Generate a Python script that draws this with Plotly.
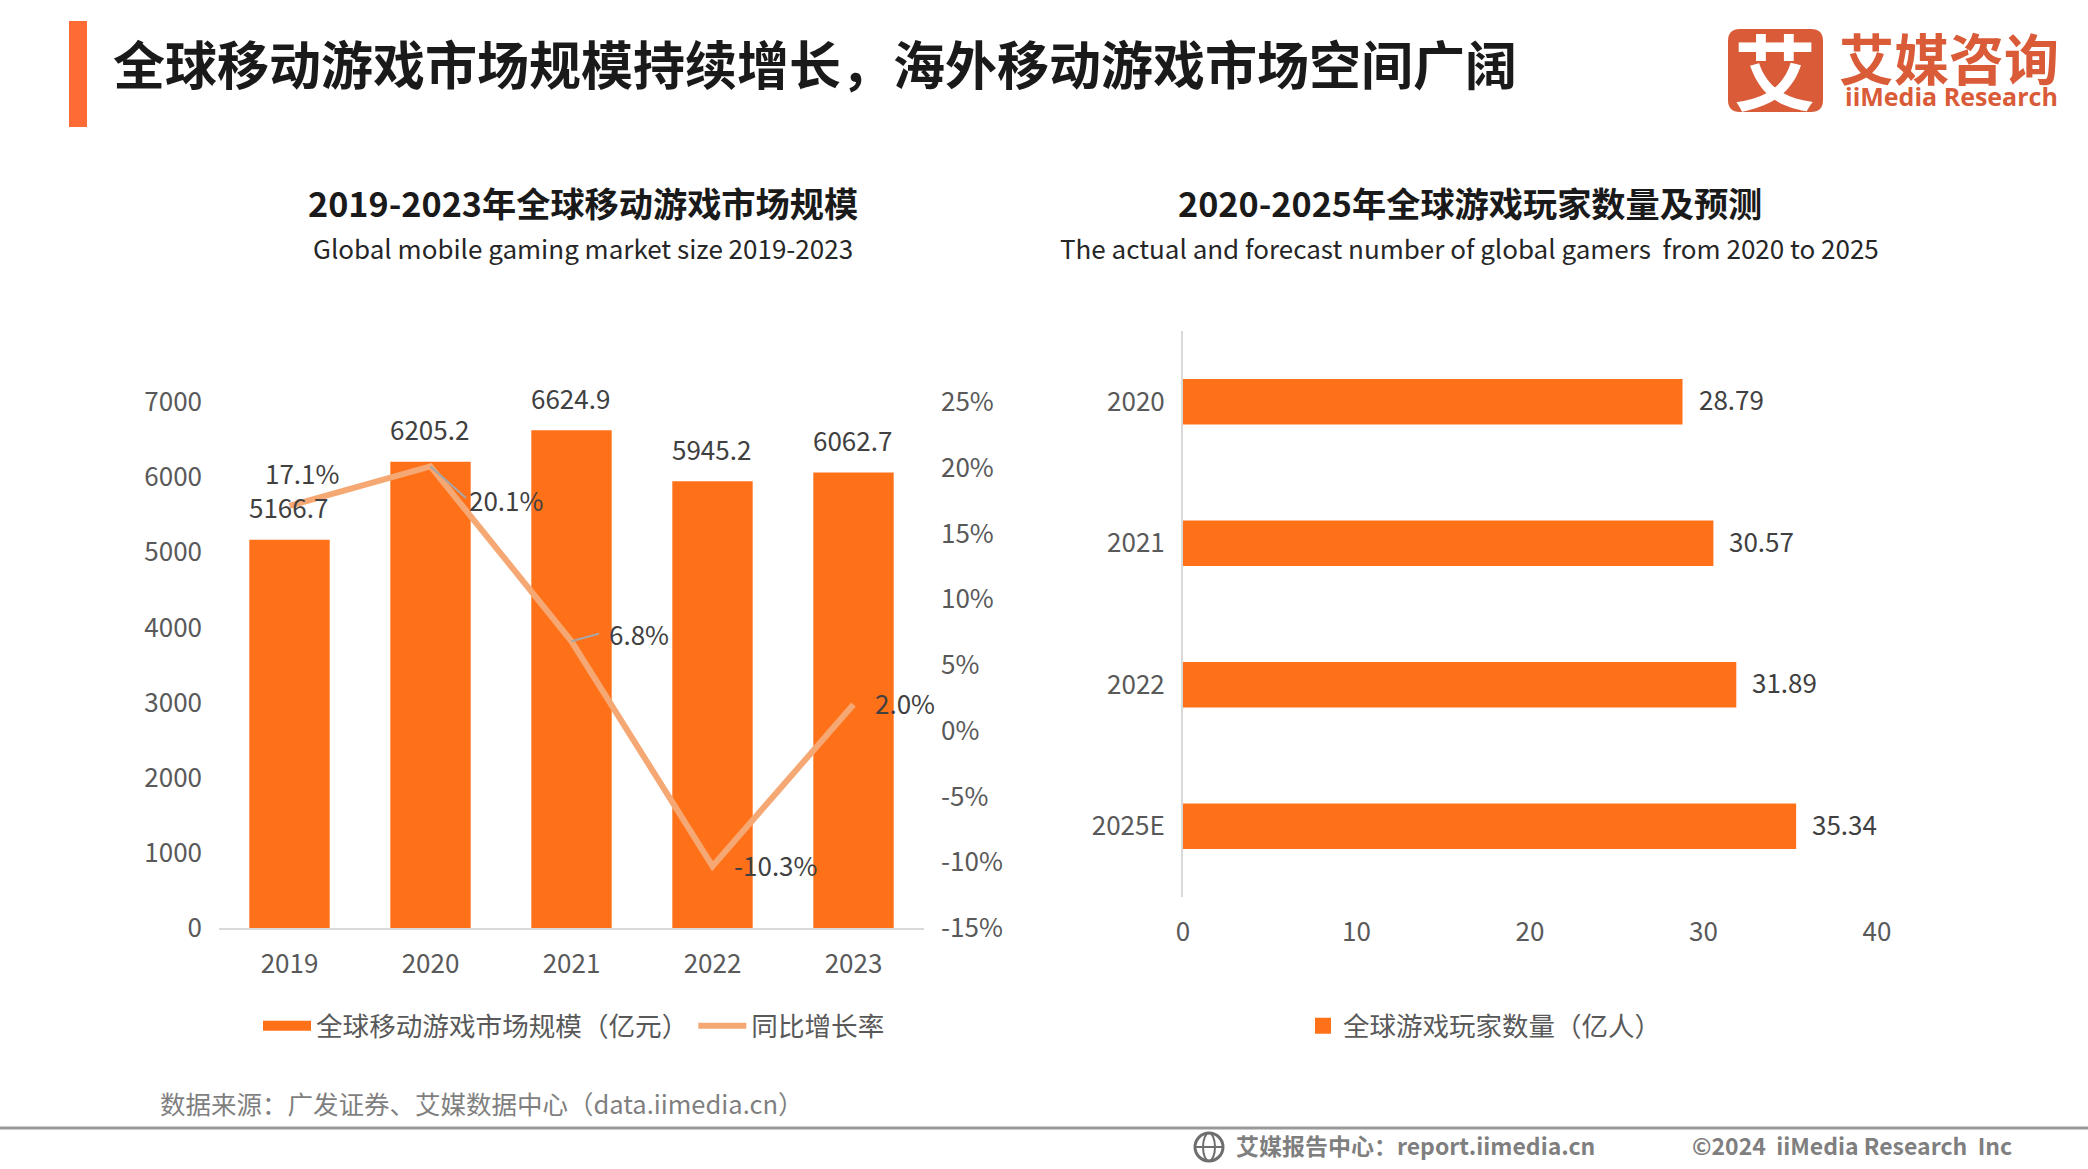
import plotly.graph_objects as go

W, H = 2088, 1169
FONT = "Noto Sans CJK SC"
ORANGE = "#FF7119"
LINE = "#F5A873"
BRAND = "#D95B38"

years = ["2019", "2020", "2021", "2022", "2023"]
market_size = [5166.7, 6205.2, 6624.9, 5945.2, 6062.7]
growth = [17.1, 20.1, 6.8, -10.3, 2.0]
size_ticks = [0, 1000, 2000, 3000, 4000, 5000, 6000, 7000]
growth_ticks = [-15, -10, -5, 0, 5, 10, 15, 20, 25]
growth_tick_labels = ["-15%", "-10%", "-5%", "0%", "5%", "10%", "15%", "20%", "25%"]
growth_labels = ["17.1%", "20.1%", "6.8%", "-10.3%", "2.0%"]

player_years = ["2020", "2021", "2022", "2025E"]
players = [28.79, 30.57, 31.89, 35.34]
player_ticks = [0, 10, 20, 30, 40]


def px(x):
    return x / W


def py(y):
    return 1 - y / H


fig = go.Figure()
fig.add_trace(go.Bar(x=years, y=market_size, marker_color=ORANGE, marker_line_width=0,
                     width=0.57, xaxis="x", yaxis="y", showlegend=False))
fig.add_trace(go.Scatter(x=[None], y=[None], mode="lines", name="全球移动游戏市场规模（亿元）",
                         line=dict(color=ORANGE, width=18), xaxis="x", yaxis="y", legend="legend"))
fig.add_trace(go.Scatter(x=years, y=growth, mode="lines", name="同比增长率",
                         line=dict(color=LINE, width=6), xaxis="x", yaxis="y2", legend="legend"))
fig.add_trace(go.Bar(y=player_years, x=players, orientation="h", marker_color=ORANGE,
                     marker_line_width=0, width=0.32, xaxis="x3", yaxis="y3", showlegend=False))
fig.add_trace(go.Scatter(x=[None], y=[None], mode="markers", name="全球游戏玩家数量（亿人）",
                         marker=dict(color=ORANGE, symbol="square", size=18),
                         xaxis="x3", yaxis="y3", legend="legend2"))

ann = []


def text(x, y, s, size, color="#404040", bold=False, anchor="center", family=FONT):
    t = f"<b>{s}</b>" if bold else s
    ann.append(dict(xref="paper", yref="paper", x=px(x), y=py(y), text=t, showarrow=False,
                    xanchor=anchor, yanchor="middle",
                    font=dict(family=family, size=size, color=color)))


text(111, 62.5, "全球移动游戏市场规模持续增长，海外移动游戏市场空间广阔", 52, "#1a1a1a", True, "left")
text(583, 201.5, "2019-2023年全球移动游戏市场规模", 34.2, "#1a1a1a", True)
text(583, 247.5, "Global mobile gaming market size 2019-2023", 26, "#262626")
text(1470, 201.5, "2020-2025年全球游戏玩家数量及预测", 34.2, "#1a1a1a", True)
text(1470, 247.5, "The actual and forecast number of global gamers  from 2020 to 2025", 26, "#262626")
text(158, 1102.5, "数据来源：广发证券、艾媒数据中心（data.iimedia.cn）", 25.5, "#7f7f7f", False, "left")
text(1234, 1144.5, "艾媒报告中心：report.iimedia.cn", 23, "#7f7f7f", True, "left")
text(1690, 1144.5, "©2024  iiMedia Research  Inc", 23, "#7f7f7f", True, "left")
text(1775, 69, "艾", 82, "#ffffff", True)
text(1949, 56, "艾媒咨询", 55, BRAND, True)
text(1951, 96, "iiMedia Research", 25, BRAND, True, family="Open Sans")

# Annotations on a category axis take the category's serial number.
for i, v in enumerate(market_size):
    ann.append(dict(xref="x", yref="y", x=i, y=v, text=f"{v:.1f}", showarrow=False,
                    yshift=33, xshift=-1, xanchor="center", yanchor="middle",
                    font=dict(family=FONT, size=26, color="#404040")))

offsets = [(12, 33, False), (75, -33, True), (67, 8, True), (63, 1.5, False), (51, 1.5, False)]
for i, (v, lab, (dx, dy, lead)) in enumerate(zip(growth, growth_labels, offsets)):
    ann.append(dict(xref="x", yref="y2", x=i, y=v, text=lab, showarrow=False,
                    xshift=dx, yshift=dy, xanchor="center", yanchor="middle",
                    font=dict(family=FONT, size=26, color="#404040")))
    if lead:
        ann.append(dict(xref="x", yref="y2", x=i, y=v, text="", showarrow=True, arrowhead=0,
                        arrowwidth=2, arrowcolor="#A6A6A6", ax=dx - 38, ay=-dy, standoff=0))

for i, v in enumerate(players):
    ann.append(dict(xref="x3", yref="y3", x=v, y=i, text=f"{v:.2f}", showarrow=False,
                    xshift=14, yshift=3, xanchor="left", yanchor="middle",
                    font=dict(family=FONT, size=26, color="#404040")))


def rounded(x0, y0, x1, y1, r):
    return (f"M{px(x0 + r)},{py(y0)} L{px(x1 - r)},{py(y0)} Q{px(x1)},{py(y0)} {px(x1)},{py(y0 + r)} "
            f"L{px(x1)},{py(y1 - r)} Q{px(x1)},{py(y1)} {px(x1 - r)},{py(y1)} "
            f"L{px(x0 + r)},{py(y1)} Q{px(x0)},{py(y1)} {px(x0)},{py(y1 - r)} "
            f"L{px(x0)},{py(y0 + r)} Q{px(x0)},{py(y0)} {px(x0 + r)},{py(y0)} Z")


shapes = [
    dict(type="rect", xref="paper", yref="paper", x0=px(69), x1=px(87), y0=py(127), y1=py(21),
         fillcolor="#FF6B35", line_width=0),
    dict(type="line", xref="paper", yref="paper", x0=0, x1=1, y0=py(1128), y1=py(1128),
         line=dict(color="#999999", width=3)),
    dict(type="path", xref="paper", yref="paper", path=rounded(1728, 29, 1823, 112, 12),
         fillcolor=BRAND, line_width=0),
    dict(type="circle", xref="paper", yref="paper", x0=px(1195), x1=px(1223), y0=py(1161), y1=py(1133),
         line=dict(color="#6e6e6e", width=3)),
    dict(type="circle", xref="paper", yref="paper", x0=px(1203), x1=px(1215), y0=py(1161), y1=py(1133),
         line=dict(color="#6e6e6e", width=2)),
    dict(type="line", xref="paper", yref="paper", x0=px(1195), x1=px(1223), y0=py(1147), y1=py(1147),
         line=dict(color="#6e6e6e", width=2)),
]

axis_font = dict(family=FONT, size=26, color="#595959")
fig.update_layout(
    width=W, height=H, autosize=False,
    margin=dict(l=0, r=0, t=0, b=0, autoexpand=False),
    paper_bgcolor="white", plot_bgcolor="white", barmode="overlay",
    font=dict(family=FONT, size=26, color="#595959"),
    annotations=ann, shapes=shapes,
    xaxis=dict(domain=[px(219), px(924)], anchor="y", type="category", categoryorder="array",
               categoryarray=years, range=[-0.5, 4.5], showgrid=False, zeroline=False, showline=True,
               linecolor="#D9D9D9", linewidth=2, ticks="", tickfont=axis_font, ticklabelstandoff=12),
    yaxis=dict(domain=[py(928), py(402)], anchor="x", range=[0, 7000], tickvals=size_ticks,
               showgrid=False, zeroline=False, showline=False, ticks="", tickfont=axis_font,
               ticklabelstandoff=16, tickformat="d"),
    yaxis2=dict(domain=[py(928), py(402)], anchor="x", overlaying="y", side="right", range=[-15, 25],
                tickvals=growth_ticks, ticktext=growth_tick_labels, showgrid=False, zeroline=False,
                showline=False, ticks="", tickfont=axis_font, ticklabelstandoff=16),
    xaxis3=dict(domain=[px(1183), px(1877)], anchor="y3", range=[0, 40], tickvals=player_ticks,
                showgrid=False, zeroline=False, showline=False, ticks="", tickfont=axis_font,
                ticklabelstandoff=17),
    yaxis3=dict(domain=[py(897), py(331)], anchor="x3", type="category", categoryorder="array",
                categoryarray=player_years, range=[3.5, -0.5], showgrid=False, zeroline=False,
                showline=True, linecolor="#D9D9D9", linewidth=2, ticks="", tickfont=axis_font,
                ticklabelstandoff=11),
    legend=dict(orientation="h", x=px(258), y=py(1026), xanchor="left", yanchor="middle",
                itemwidth=48, font=dict(family=FONT, size=26.6, color="#595959"),
                bgcolor="rgba(0,0,0,0)", itemclick=False, itemdoubleclick=False),
    legend2=dict(orientation="h", x=px(1303), y=py(1026), xanchor="left", yanchor="middle",
                 font=dict(family=FONT, size=26.5, color="#595959"),
                 bgcolor="rgba(0,0,0,0)", itemclick=False, itemdoubleclick=False),
)

fig.write_html("out.html", config=dict(displayModeBar=False),
               post_script="document.body.style.margin='0';")
